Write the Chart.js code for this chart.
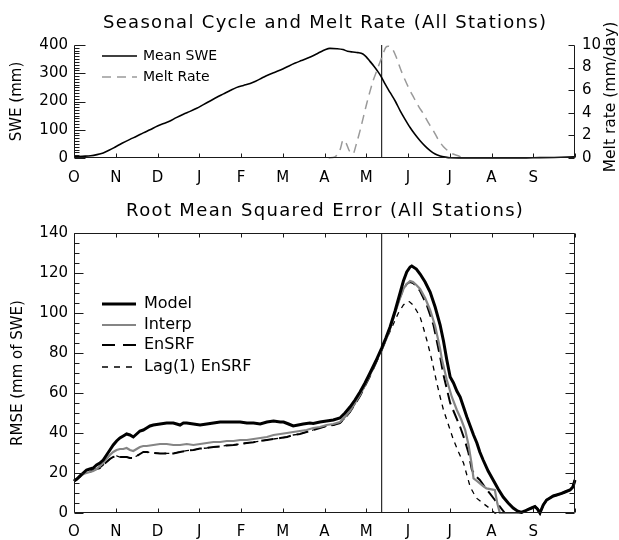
<!DOCTYPE html>
<html><head><meta charset="utf-8">
<script src="https://cdn.jsdelivr.net/npm/chart.js@4.4.1/dist/chart.umd.min.js"></script>
<style>
html,body{margin:0;padding:0;background:#fff;}
#wrap{position:relative;width:619px;height:540px;background:#fff;}
canvas{position:absolute;left:0;}
#c1{top:0;} #c2{top:190px;}
</style></head><body>
<div id="wrap"><canvas id="c1" width="619" height="190"></canvas><canvas id="c2" width="619" height="350"></canvas></div>
<script>
// ---------- DATA ----------
const monthLabels = ['O','N','D','J','F','M','A','M','J','J','A','S',''];
const dividerMonth = [7.37];

// Top panel: [month since Oct 1, value]
const meanSWE = [[0,4],[0.2,6],[0.4,8],[0.55,12],[0.7,18],[0.85,28],[1.0,40],[1.15,52],[1.34,66],[1.5,77],[1.66,89],[1.82,100],[2.0,113],[2.15,122],[2.3,131],[2.45,143],[2.62,155],[2.78,165],[2.94,176],[3.1,189],[3.26,202],[3.42,215],[3.58,227],[3.74,239],[3.9,250],[4.06,257],[4.22,264],[4.35,272],[4.5,283],[4.65,294],[4.8,303],[5.0,315],[5.15,326],[5.3,336],[5.45,345],[5.6,354],[5.75,364],[5.9,375],[6.0,382],[6.13,388],[6.3,387],[6.44,384],[6.55,378],[6.68,375],[6.8,373],[6.92,368],[7.0,358],[7.09,342],[7.18,326],[7.26,310],[7.35,290],[7.45,262],[7.57,232],[7.7,200],[7.81,168],[7.93,137],[8.05,108],[8.17,83],[8.29,61],[8.41,42],[8.53,26],[8.65,14],[8.77,7],[8.9,3],[9.01,1],[9.5,0],[10,0],[10.5,0],[11,1],[11.5,2],[12,4]];
const meltRate = [[6.1,0],[6.25,0.1],[6.37,0.7],[6.45,1.6],[6.52,1.3],[6.6,0.6],[6.68,0.35],[6.76,1.2],[6.85,2.4],[6.93,3.6],[7.01,4.8],[7.09,5.9],[7.17,6.9],[7.25,7.7],[7.33,8.5],[7.41,9.3],[7.47,9.8],[7.53,9.9],[7.59,9.8],[7.65,9.5],[7.71,9.0],[7.77,8.4],[7.85,7.6],[7.93,6.9],[8.03,6.1],[8.13,5.4],[8.25,4.6],[8.37,3.9],[8.49,3.1],[8.61,2.4],[8.73,1.6],[8.85,1.0],[8.97,0.6],[9.08,0.35],[9.2,0.2],[9.32,0.05],[9.4,0]];

// Bottom panel RMSE: [month, mm]
const lateSeasonRMSE = [[10.72,0.3],[10.8,1],[10.88,1.8],[10.96,2.5],[11.04,3.2],[11.1,2],[11.16,0],[11.24,4],[11.32,6.5],[11.4,7.5],[11.48,8.5],[11.56,9],[11.68,9.8],[11.76,10.5],[11.88,11.5],[11.95,13],[12,16.5]];
const modelRMSE = [[0,16],[0.07,17],[0.14,18.5],[0.22,20],[0.3,21.5],[0.38,22],[0.46,22.5],[0.54,24],[0.62,25],[0.7,26.5],[0.78,29],[0.86,31.5],[0.94,34],[1.02,36],[1.1,37.5],[1.18,38.5],[1.26,39.5],[1.34,39],[1.42,38],[1.5,39.5],[1.58,41],[1.66,41.5],[1.74,42.5],[1.82,43.5],[1.9,44],[2.06,44.5],[2.22,45],[2.38,45],[2.46,44.5],[2.54,44],[2.62,45],[2.7,45],[2.86,44.5],[3.02,44],[3.18,44.5],[3.34,45],[3.5,45.5],[3.66,45.5],[3.82,45.5],[3.98,45.5],[4.14,45],[4.3,45],[4.46,44.5],[4.62,45.5],[4.78,46],[4.94,45.5],[5.02,45.5],[5.14,44.5],[5.25,43.5],[5.37,44],[5.49,44.5],[5.65,45],[5.73,44.8],[5.89,45.5],[6.05,46],[6.21,46.5],[6.37,47.5],[6.49,50],[6.61,53],[6.73,56.5],[6.85,60.5],[6.97,65],[7.09,70],[7.23,76],[7.37,82.5],[7.47,87.5],[7.57,93],[7.69,101],[7.81,110],[7.89,116],[7.97,120.5],[8.05,123],[8.09,123.5],[8.2,122],[8.29,119.5],[8.41,115.5],[8.53,110.5],[8.65,103],[8.77,94],[8.85,86],[8.93,76.5],[9.01,68],[9.09,65],[9.17,61],[9.25,58],[9.33,53],[9.41,48],[9.49,43.5],[9.57,39],[9.65,35],[9.72,30.5],[9.8,26.5],[9.92,21],[10.04,16.5],[10.16,12],[10.28,8],[10.4,5],[10.52,2.5],[10.62,1]];
const interpRMSE = [[0,16],[0.07,17],[0.14,18.5],[0.22,19.5],[0.3,20],[0.38,20.5],[0.46,21],[0.54,22],[0.62,23.5],[0.7,25],[0.78,27],[0.86,29],[0.94,30.5],[1.02,31.5],[1.1,32],[1.18,32],[1.26,32.5],[1.34,31.5],[1.42,31],[1.5,32],[1.58,33],[1.66,33.5],[1.74,33.5],[1.9,34],[2.06,34.5],[2.22,34.5],[2.38,34],[2.54,34],[2.7,34.5],[2.86,34],[3.02,34.5],[3.18,35],[3.34,35.5],[3.5,35.5],[3.66,36],[3.82,36],[3.98,36.5],[4.14,36.5],[4.3,37],[4.46,37.5],[4.62,38],[4.78,39],[4.94,39.5],[5.1,40],[5.25,40.5],[5.41,41],[5.57,41.5],[5.73,42.5],[5.89,43],[6.05,44],[6.21,44.5],[6.37,45.5],[6.49,48],[6.61,51],[6.73,55],[6.85,59],[6.97,64],[7.09,69],[7.23,75.5],[7.37,82],[7.47,86.5],[7.57,92],[7.69,100],[7.81,107.5],[7.89,112],[7.97,114.5],[8.05,116],[8.12,115.5],[8.2,114],[8.29,112],[8.41,107.5],[8.53,101.5],[8.65,93.5],[8.77,82],[8.81,77],[8.93,66.5],[9.05,58],[9.17,51.5],[9.27,47],[9.37,41.5],[9.45,34],[9.52,25],[9.57,17.3],[9.65,16],[9.72,14.8],[9.8,13.5],[9.88,12.3],[10.0,11.8],[10.08,11.5],[10.14,4.8],[10.2,0],[10.6,0]];
const enkfRMSE = [[0,16],[0.07,17],[0.14,18],[0.22,19.5],[0.3,20],[0.38,20.5],[0.46,21.5],[0.54,22],[0.62,22.5],[0.7,24],[0.78,25.5],[0.86,27],[0.94,28],[1.02,28.5],[1.1,28],[1.18,28],[1.26,28],[1.34,27.5],[1.42,27.5],[1.5,28.5],[1.58,29.5],[1.66,30.5],[1.74,30.5],[1.9,30],[2.06,29.8],[2.22,29.8],[2.38,29.8],[2.54,30.5],[2.7,31.2],[2.86,31.5],[3.02,32.2],[3.18,32.5],[3.34,33],[3.5,33.3],[3.66,33.8],[3.82,34],[3.98,34.5],[4.14,35],[4.3,35.4],[4.46,36],[4.62,36.5],[4.78,37],[4.94,37.5],[5.1,38],[5.25,39],[5.41,39.5],[5.57,40.5],[5.73,41.5],[5.89,42.5],[6.05,43.5],[6.21,44],[6.37,45],[6.49,47.5],[6.61,50.5],[6.73,54.5],[6.85,58.5],[6.97,63.5],[7.09,68.5],[7.23,75],[7.37,81.5],[7.47,86.5],[7.57,92.5],[7.69,100.5],[7.81,108],[7.89,112],[7.97,114.5],[8.05,115.5],[8.12,115],[8.2,113.5],[8.29,111],[8.45,104],[8.61,94],[8.77,78],[8.85,69],[8.93,62],[9.01,55],[9.13,49],[9.25,43],[9.35,37],[9.45,30],[9.53,21.5],[9.62,18.5],[9.72,16.5],[9.84,13],[9.96,9.8],[10.08,6.5],[10.2,3.2],[10.32,0],[10.6,0]];
const lagEnkfRMSE = [[0,16],[0.07,17],[0.14,18],[0.22,19.5],[0.3,20],[0.38,20.5],[0.46,21.5],[0.54,22],[0.62,22.5],[0.7,24],[0.78,25.5],[0.86,27],[0.94,28],[1.02,28.5],[1.1,28],[1.18,28],[1.26,28],[1.34,27.5],[1.42,27.5],[1.5,28.5],[1.58,29.5],[1.66,30.5],[1.74,30.5],[1.9,30],[2.06,29.8],[2.22,29.8],[2.38,29.8],[2.54,30.5],[2.7,31.2],[2.86,31.5],[3.02,32.2],[3.18,32.5],[3.34,33],[3.5,33.3],[3.66,33.8],[3.82,34],[3.98,34.5],[4.14,35],[4.3,35.4],[4.46,36],[4.62,36.5],[4.78,37],[4.94,37.5],[5.1,38],[5.25,39],[5.41,39.5],[5.57,40.5],[5.73,41.5],[5.89,42.5],[6.05,43.5],[6.21,44],[6.37,45],[6.49,47.5],[6.61,50.5],[6.73,54.5],[6.85,58.5],[6.97,63.5],[7.09,68.5],[7.23,75],[7.37,82],[7.41,84],[7.53,89],[7.65,94.5],[7.77,100],[7.89,104],[7.97,105.5],[8.03,105.7],[8.12,104],[8.21,101],[8.29,98],[8.37,92.5],[8.45,86.5],[8.53,80],[8.57,76.5],[8.69,65],[8.77,58],[8.85,51.5],[8.97,44],[9.09,36.5],[9.21,30.5],[9.33,25],[9.41,19],[9.49,13],[9.57,10],[9.65,7.3],[9.8,4.8],[9.96,2.3],[10.08,0],[10.6,0]];

// ---------- HELPERS ----------
const toXY = arr => arr.map(p => ({x:p[0], y:p[1]}));
const FAM = 'DejaVu Sans';
const tickFont = {family:FAM, size:15};

const framePlugin = {
  id:'frame',
  afterDraw(chart, args, o){
    const {ctx, chartArea:a} = chart;
    ctx.save();
    ctx.strokeStyle = '#1a1a1a'; ctx.lineWidth = 1;
    const L = Math.round(a.left)+0.5, R = Math.round(a.right)-0.5, T = Math.round(a.top)+0.5, B = Math.round(a.bottom)-0.5;
    ctx.beginPath();
    (o.sides||[]).forEach(s=>{
      if(s==='left'){ctx.moveTo(L,T);ctx.lineTo(L,B);}
      if(s==='right'){ctx.moveTo(R,T);ctx.lineTo(R,B);}
      if(s==='top'){ctx.moveTo(L,T);ctx.lineTo(R,T);}
      if(s==='bottom'){ctx.moveTo(L,B);ctx.lineTo(R,B);}
    });
    ctx.stroke();
    (o.ticks||[]).forEach(t=>{
      const sc = chart.scales[t.scale];
      const n = Math.round((sc.max - sc.min)/t.step);
      ctx.beginPath();
      for(let i=0;i<=n;i++){
        const v = sc.min + i*t.step;
        const isMajor = Math.abs(v/t.majorEvery - Math.round(v/t.majorEvery))<1e-6;
        const len = isMajor ? t.major : t.minor;
        if(!len) continue;
        const p = Math.round(sc.getPixelForValue(v))+0.5;
        if(t.side==='left'){ctx.moveTo(L,p);ctx.lineTo(L+len,p);}
        if(t.side==='right'){ctx.moveTo(R,p);ctx.lineTo(R-len,p);}
        if(t.side==='bottom'){ctx.moveTo(p,B);ctx.lineTo(p,B-len);}
        if(t.side==='top'){ctx.moveTo(p,T);ctx.lineTo(p,T+len);}
      }
      ctx.stroke();
    });
    ctx.restore();
  }
};

const legendPlugin = {
  id:'boxLegend',
  afterDraw(chart, args, o){
    if(!o.items) return;
    const ctx = chart.ctx;
    ctx.save();
    ctx.font = o.fontSize + 'px "' + FAM + '"';
    ctx.textBaseline = 'middle';
    ctx.fillStyle = '#000';
    o.items.forEach((idx,k)=>{
      const ds = chart.data.datasets[idx];
      const y = o.ys[k];
      ctx.save();
      ctx.strokeStyle = ds.borderColor; ctx.lineWidth = ds.borderWidth;
      ctx.setLineDash(ds.legendDash || ds.borderDash || []);
      ctx.beginPath(); ctx.moveTo(o.x0,y); ctx.lineTo(o.x1,y); ctx.stroke();
      ctx.restore();
      ctx.fillText(ds.label, o.tx, y);
    });
    ctx.restore();
  }
};

const textPlugin = {
  id:'panelText',
  afterDraw(chart, args, o){
    const ctx = chart.ctx;
    const a = chart.chartArea;
    (o.items||[]).forEach(t=>{
      ctx.save();
      const x = t.x === 'center' ? (a.left + a.right)/2 : t.x;
      ctx.translate(x, t.y);
      if(t.rotate) ctx.rotate(t.rotate);
      ctx.font = t.fontSize + 'px "' + FAM + '"';
      if('letterSpacing' in ctx) ctx.letterSpacing = (t.spacing||0) + 'px';
      ctx.fillStyle = '#000';
      ctx.textAlign = 'center'; ctx.textBaseline = 'middle';
      ctx.fillText(t.text, (t.spacing||0)/2, 0);
      ctx.restore();
    });
  }
};

const noGrid = {display:false, drawTicks:false};
const xScale = (h, pad) => ({
  type:'linear', min:0, max:12, grid:noGrid, border:{display:false},
  ticks:{stepSize:1, autoSkip:false, maxRotation:0, padding:pad, color:'#000', font:tickFont,
         callback:v => monthLabels[Math.round(v)] ?? ''},
  afterFit:s => { s.height = h; }
});

// ---------- TOP CHART ----------
new Chart(document.getElementById('c1'), {
  type:'line',
  data:{datasets:[
    {label:'Mean SWE', data:toXY(meanSWE), yAxisID:'y', borderColor:'#000', borderWidth:1.6, pointRadius:0, cubicInterpolationMode:'monotone', clip:3},
    {label:'Melt Rate', data:toXY(meltRate), yAxisID:'y1', borderColor:'#9a9a9a', borderWidth:1.5, borderDash:[9,6], legendDash:[9,6], pointRadius:0, cubicInterpolationMode:'monotone', clip:3},
    {label:'divider', data:[{x:dividerMonth[0],y:0},{x:dividerMonth[0],y:400}], yAxisID:'y', borderColor:'#000', borderWidth:1, pointRadius:0}
  ]},
  options:{
    responsive:false, animation:false, events:[],
    layout:{padding:{top:45}},
    scales:{
      x:xScale(32, 11),
      y:{min:0, max:400, grid:noGrid, border:{display:false},
         ticks:{stepSize:100, padding:6, color:'#000', font:tickFont},
         title:{display:true, text:'SWE (mm)', color:'#000', font:{family:FAM, size:15}, padding:{top:8, bottom:0}},
         afterFit:s => { s.width = 74; }},
      y1:{position:'right', min:0, max:10, grid:noGrid, border:{display:false},
         ticks:{stepSize:2, padding:7, color:'#000', font:tickFont},
         afterFit:s => { s.width = 44; }}
    },
    plugins:{
      legend:{display:false}, tooltip:{enabled:false}, title:{display:false},
      frame:{sides:['left','right','bottom'], ticks:[
        {scale:'y', side:'left', step:10, majorEvery:100, major:11, minor:5},
        {scale:'y1', side:'right', step:2, majorEvery:2, major:6, minor:0},
        {scale:'x', side:'bottom', step:1, majorEvery:1, major:4, minor:0}
      ]},
      boxLegend:{items:[0,1], ys:[56,77], x0:102, x1:137, tx:143, fontSize:14},
      panelText:{items:[
        {text:'Seasonal Cycle and Melt Rate (All Stations)', x:'center', y:23, fontSize:18, spacing:1.3},
        {text:'Melt rate (mm/day)', x:611, y:97, fontSize:15.5, rotate:-Math.PI/2}
      ]}
    }
  },
  plugins:[framePlugin, legendPlugin, textPlugin]
});

// ---------- BOTTOM CHART ----------
new Chart(document.getElementById('c2'), {
  type:'line',
  data:{datasets:[
    {label:'Model', data:toXY(modelRMSE.concat(lateSeasonRMSE)), borderColor:'#000', borderWidth:3, pointRadius:0, clip:3},
    {label:'Interp', data:toXY(interpRMSE.concat(lateSeasonRMSE)), borderColor:'#858585', borderWidth:2.2, pointRadius:0, clip:3},
    {label:'EnSRF', data:toXY(enkfRMSE.concat(lateSeasonRMSE)), borderColor:'#000', borderWidth:2, borderDash:[12,6], legendDash:[13,8], pointRadius:0, clip:3},
    {label:'Lag(1) EnSRF', data:toXY(lagEnkfRMSE.concat(lateSeasonRMSE)), borderColor:'#000', borderWidth:1.3, borderDash:[5,5], legendDash:[6,6], pointRadius:0, clip:3},
    {label:'divider', data:[{x:dividerMonth[0],y:0},{x:dividerMonth[0],y:140}], borderColor:'#000', borderWidth:1, pointRadius:0}
  ]},
  options:{
    responsive:false, animation:false, events:[],
    layout:{padding:{top:43, right:44}},
    scales:{
      x:xScale(27, 10),
      y:{min:0, max:140, grid:noGrid, border:{display:false},
         ticks:{stepSize:20, padding:6, color:'#000', font:tickFont},
         title:{display:true, text:'RMSE (mm of SWE)', color:'#000', font:{family:FAM, size:15}, padding:{top:9, bottom:0}},
         afterFit:s => { s.width = 74; }}
    },
    plugins:{
      legend:{display:false}, tooltip:{enabled:false}, title:{display:false},
      frame:{sides:['left','right','top','bottom'], ticks:[
        {scale:'y', side:'left', step:5, majorEvery:20, major:9, minor:5},
        {scale:'y', side:'right', step:5, majorEvery:20, major:9, minor:5},
        {scale:'x', side:'bottom', step:1, majorEvery:1, major:4, minor:0},
        {scale:'x', side:'top', step:1, majorEvery:1, major:4, minor:0}
      ]},
      boxLegend:{items:[0,1,2,3], ys:[114,135,155,177], x0:102, x1:136, tx:144, fontSize:16},
      panelText:{items:[
        {text:'Root Mean Squared Error (All Stations)', x:'center', y:21.5, fontSize:18, spacing:1.35}
      ]}
    }
  },
  plugins:[framePlugin, legendPlugin, textPlugin]
});
</script>
</body></html>
